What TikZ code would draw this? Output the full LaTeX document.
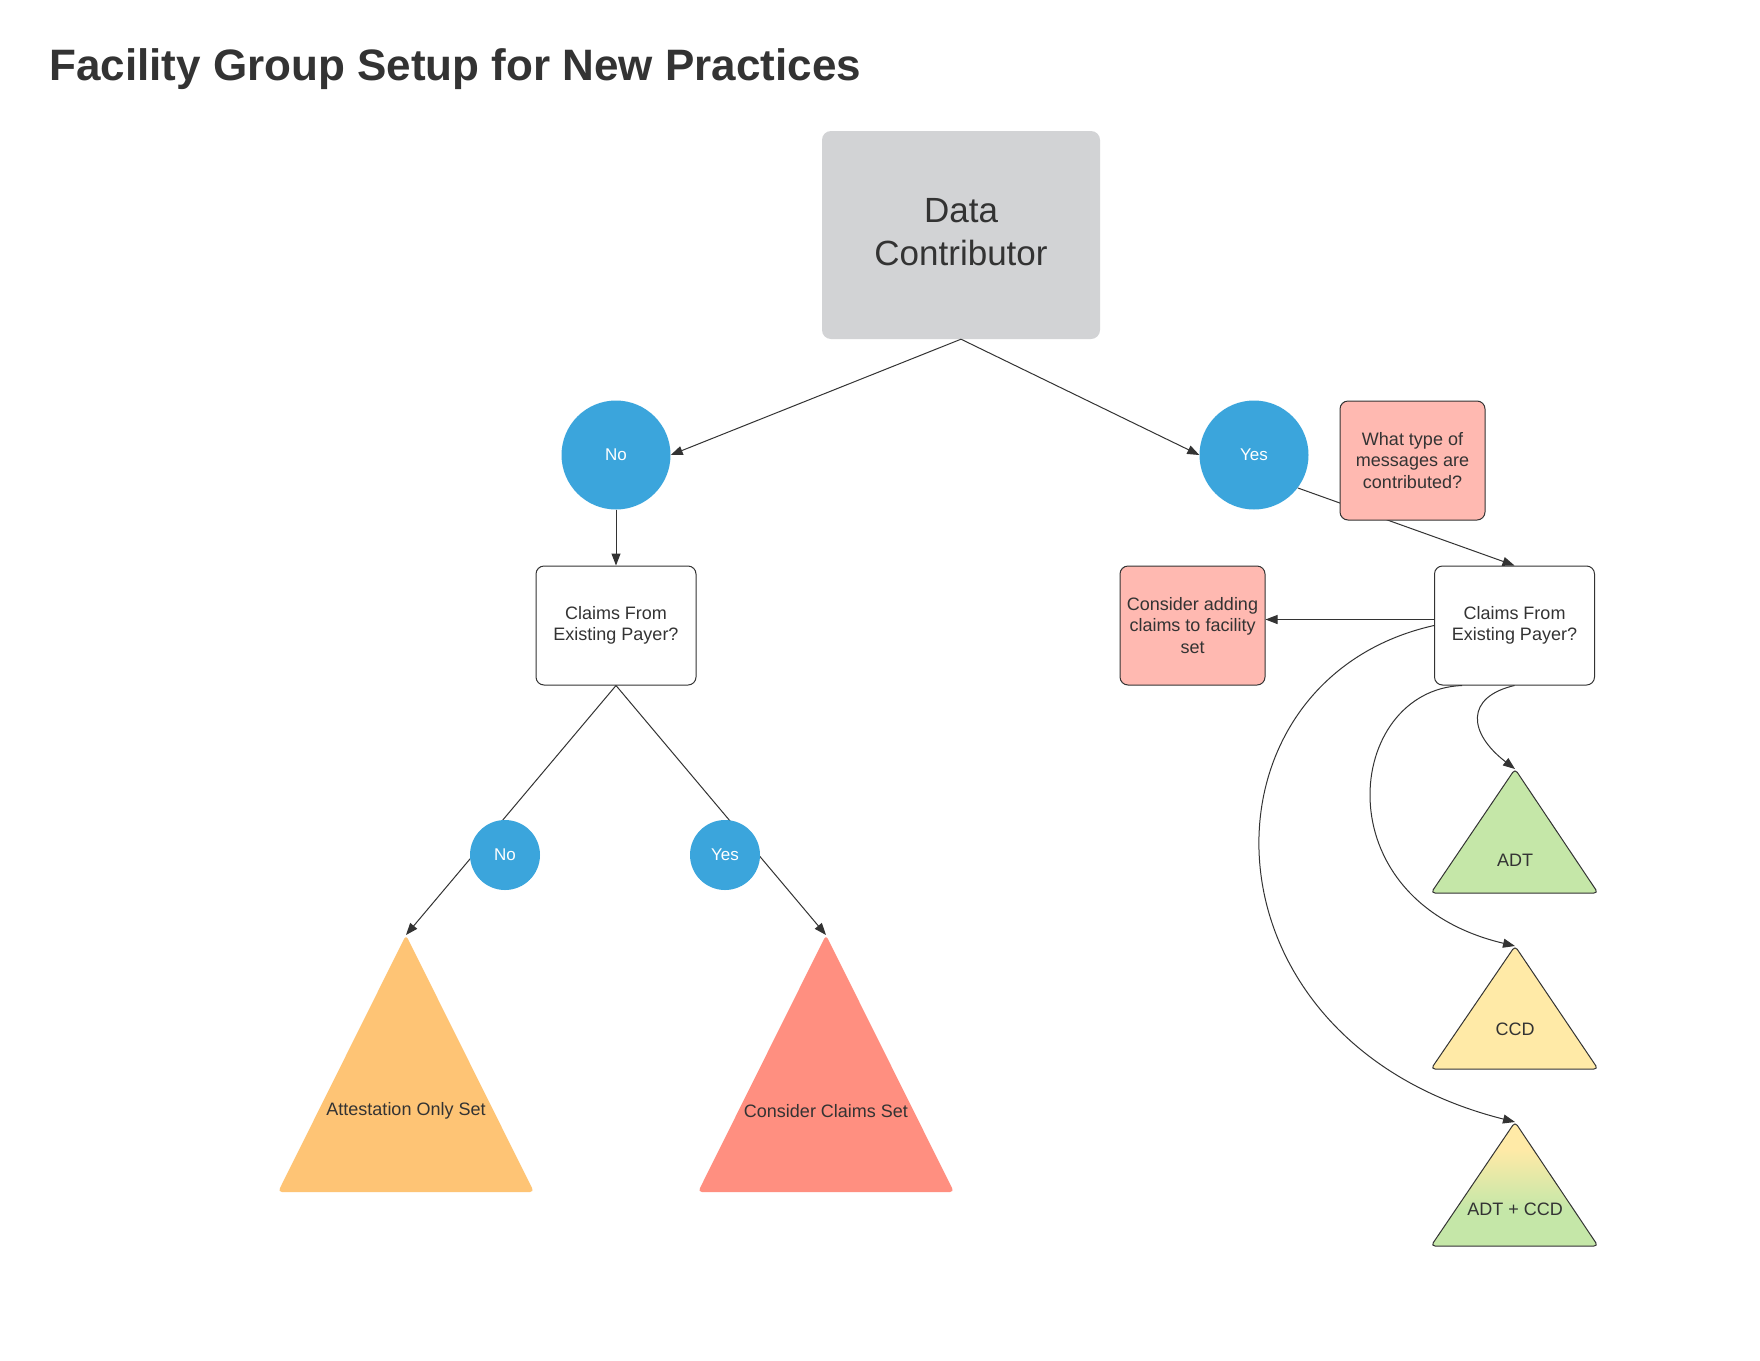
\documentclass[tikz,border=0pt]{standalone}
\usepackage{fontspec}
\setmainfont{Liberation Sans}
\usetikzlibrary{arrows.meta,calc}
\definecolor{ink}{HTML}{333333}
\definecolor{dcgray}{HTML}{D2D3D5}
\definecolor{bluec}{HTML}{3BA5DC}
\definecolor{pinkbox}{HTML}{FFB9B1}
\definecolor{orangetri}{HTML}{FEC475}
\definecolor{redtri}{HTML}{FF8F80}
\definecolor{adtgreen}{HTML}{C5E7A8}
\definecolor{ccdyellow}{HTML}{FFEAA7}
\pgfdeclareverticalshading{adtccdshade}{100bp}{color(0bp)=(adtgreen); color(40bp)=(adtgreen); color(64bp)=(ccdyellow); color(100bp)=(ccdyellow)}
\tikzset{
  conn/.style={draw=ink, line width=1pt, -{Triangle[length=12pt,width=9pt]}},
  txt/.style={text=ink, font=\fontsize{18}{21.5}\selectfont, align=center, inner sep=0pt},
  dcbox/.style={fill=dcgray, rounded corners=9pt, minimum width=278pt, minimum height=208pt, text=ink, font=\fontsize{35}{42.5}\selectfont, align=center},
  qbox/.style={draw=ink, line width=1pt, fill=white, rounded corners=8pt, minimum width=160pt, minimum height=119pt, txt},
  pbox/.style={draw=ink, line width=1pt, fill=pinkbox, rounded corners=8pt, minimum width=145pt, minimum height=119pt, txt},
  bigdot/.style={circle, fill=bluec, minimum size=109pt, inner sep=0pt, text=white, font=\fontsize{17}{20}\selectfont},
  smalldot/.style={circle, fill=bluec, minimum size=70pt, inner sep=0pt, text=white, font=\fontsize{17}{20}\selectfont},
  tri/.style={rounded corners=4pt},
  tribord/.style={draw=ink, line width=1pt, rounded corners=4pt}
}
\begin{document}
\begin{tikzpicture}[x=1pt,y=-1pt]
\fill[white] (0,0) rectangle (1760,1360);
\useasboundingbox (0,0) rectangle (1760,1360);

% title
\node[anchor=base west, inner sep=0pt, text=ink, font=\fontsize{44}{50}\selectfont\bfseries] (title) at (49,80) {Facility Group Setup for New Practices};

% triangle corner coordinates
\coordinate (attA) at (406,935);  \coordinate (attL) at (278,1192); \coordinate (attR) at (534,1192);
\coordinate (ccsA) at (826,935);  \coordinate (ccsL) at (698,1192); \coordinate (ccsR) at (954,1192);
\coordinate (adtA) at (1515,769); \coordinate (adtL) at (1431,893); \coordinate (adtR) at (1598,893);
\coordinate (ccdA) at (1515,946); \coordinate (ccdL) at (1431,1069); \coordinate (ccdR) at (1598,1069);
\coordinate (acA) at (1515,1122); \coordinate (acL) at (1431,1246); \coordinate (acR) at (1598,1246);

% triangles
\fill[tri, fill=orangetri] (attA) -- (attL) -- (attR) -- cycle;
\fill[tri, fill=redtri] (ccsA) -- (ccsL) -- (ccsR) -- cycle;
\filldraw[tribord, fill=adtgreen] (adtA) -- (adtL) -- (adtR) -- cycle;
\filldraw[tribord, fill=ccdyellow] (ccdA) -- (ccdL) -- (ccdR) -- cycle;
\shade[shading=adtccdshade, rounded corners=4pt] (acA) -- (acL) -- (acR) -- cycle;
\draw[tribord] (acA) -- (acL) -- (acR) -- cycle;

\node[txt] (attT) at (406,1111) {Attestation Only Set};
\node[txt] (ccsT) at (826,1111) {Consider Claims Set};
\node[txt] (adtT) at (1515,860) {ADT};
\node[txt] (ccdT) at (1515,1029) {CCD};
\node[txt] (acT) at (1515,1209) {ADT + CCD};

% boxes
\node[dcbox] (dc) at (961,235) {\raisebox{2pt}{\begin{tabular}{@{}c@{}}Data\\[0.5pt]Contributor\end{tabular}}};
\node[qbox] (lc) at (616,625.5) {Claims From\\Existing Payer?};
\node[qbox] (rc) at (1514.5,625.5) {Claims From\\Existing Payer?};
\node[pbox] (ca) at (1192.5,625.5) {Consider adding\\claims to facility\\set};

% circles (top level)
\node[bigdot] (no1) at (616,455) {No};
\node[bigdot] (yes1) at (1254,455) {Yes};

% connectors
\draw[conn] (dc.south) -- (no1.east);
\draw[conn] (dc.south) -- (yes1.west);
\draw[conn] (no1.south) -- (lc.north);
\draw[conn] (yes1.-37) -- (rc.north);
\draw[conn] (lc.south) -- (attA);
\draw[conn] (lc.south) -- (ccsA);
\draw[conn] ([yshift=6pt]rc.west) -- ([yshift=6pt]ca.east);
\draw[conn] (rc.south) .. controls (1465,697) and (1468,733) .. (adtA);
\draw[conn] ([xshift=28pt]rc.south west) .. controls (1345,690) and (1320,900) .. (ccdA);
\draw[conn] (rc.west) .. controls (1190,680) and (1190,1040) .. (acA);

% label circles on the lower connectors
\node[smalldot] (no2) at (505,855) {No};
\node[smalldot] (yes2) at (725,855) {Yes};

% note box over the Yes connector
\node[pbox] (wt) at (1412.5,460.5) {What type of\\messages are\\contributed?};
\end{tikzpicture}
\end{document}
